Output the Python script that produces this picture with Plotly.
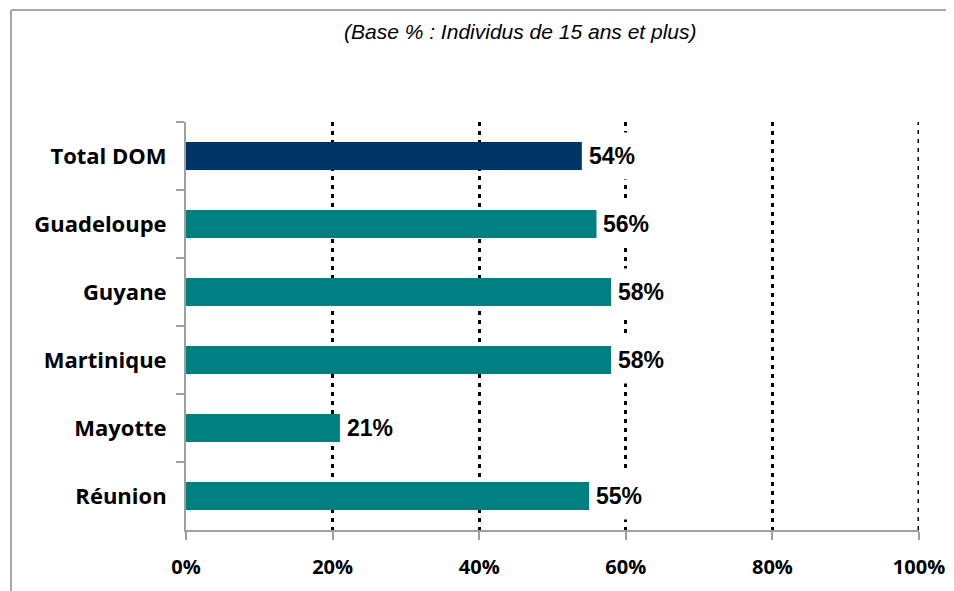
import plotly.graph_objects as go

# ---- data ----
categories = ["Total DOM", "Guadeloupe", "Guyane", "Martinique", "Mayotte", "Réunion"]
values = [0.54, 0.56, 0.58, 0.58, 0.21, 0.55]
bar_colors = ["#003366", "#008080", "#008080", "#008080", "#008080", "#008080"]
x_tickvals = [0, 0.2, 0.4, 0.6, 0.8, 1.0]
x_ticktext = ["0%", "20%", "40%", "60%", "80%", "100%"]
subtitle = "(Base % : Individus de 15 ans et plus)"

# ---- layout geometry (pixels, page coordinates; body has 8px margin) ----
OFF = 8
PAGE_W, PAGE_H = 954, 591
W, H = PAGE_W - OFF, PAGE_H - OFF
PLOT_L, PLOT_R, PLOT_T, PLOT_B = 186, 919, 122, 530
ML, MT = PLOT_L - OFF, PLOT_T - OFF
MR, MB = W - (PLOT_R - OFF), H - (PLOT_B - OFF)
PW, PH = PLOT_R - PLOT_L, PLOT_B - PLOT_T


def px_x(p):
    return (p - PLOT_L) / PW


def px_y(p):
    return (PLOT_B - p) / PH


fig = go.Figure()
fig.add_trace(go.Bar(
    x=values, y=categories, orientation="h",
    marker=dict(color=bar_colors, line=dict(width=0)),
    width=0.41, hoverinfo="skip",
))

for c, v in zip(categories, values):
    fig.add_annotation(
        x=v, y=c, xref="x", yref="y",
        text=f"{round(v * 100)}%", showarrow=False,
        xanchor="left", yanchor="middle", xshift=6,
        font=dict(family="Liberation Sans", size=23, color="black", weight="bold"),
        bgcolor="white", borderpad=0, height=46,
    )

fig.add_annotation(
    x=px_x(520), y=px_y(32), xref="paper", yref="paper",
    text=subtitle, showarrow=False, xanchor="center", yanchor="middle",
    font=dict(family="Liberation Sans", size=21, color="black", style="italic"),
)

# last gridline (plotly skips the grid line at the range edge)
fig.add_shape(type="line", xref="x", yref="paper",
              x0=x_tickvals[-1], x1=x_tickvals[-1], y0=0, y1=1, layer="below",
              line=dict(color="black", width=3, dash="4px,5px"))

frame_color = "#a6a6a6"
fig.add_shape(type="line", xref="paper", yref="paper",
              x0=px_x(11), y0=px_y(10), x1=px_x(PAGE_W + 5), y1=px_y(10),
              line=dict(color=frame_color, width=2))
fig.add_shape(type="line", xref="paper", yref="paper",
              x0=px_x(11), y0=px_y(10), x1=px_x(11), y1=px_y(PAGE_H + 5),
              line=dict(color=frame_color, width=2))

axis_gray = "#a0a0a0"
fig.update_layout(
    width=W, height=H,
    margin=dict(l=ML, r=MR, t=MT, b=MB, pad=0, autoexpand=False),
    paper_bgcolor="white", plot_bgcolor="white",
    showlegend=False,
    xaxis=dict(
        range=[0, 1], tickvals=x_tickvals, ticktext=x_ticktext,
        showgrid=True, gridcolor="black", griddash="4px,5px", gridwidth=3,
        zeroline=False, automargin=False,
        showline=True, linecolor=axis_gray, linewidth=2,
        ticks="outside", ticklen=8, tickwidth=2, tickcolor=axis_gray,
        ticklabelstandoff=10,
        tickfont=dict(family="Open Sans", size=20, color="black", weight="bold"),
        fixedrange=True,
    ),
    yaxis=dict(
        categoryorder="array", categoryarray=categories,
        autorange="reversed", automargin=False,
        showgrid=False, zeroline=False,
        showline=True, linecolor=axis_gray, linewidth=2,
        ticks="outside", tickson="boundaries", ticklen=8, tickwidth=2,
        tickcolor=axis_gray, ticklabelstandoff=13,
        tickfont=dict(family="Open Sans", size=22, color="black", weight="bold"),
        fixedrange=True,
    ),
)

fig.write_html("out.html")
